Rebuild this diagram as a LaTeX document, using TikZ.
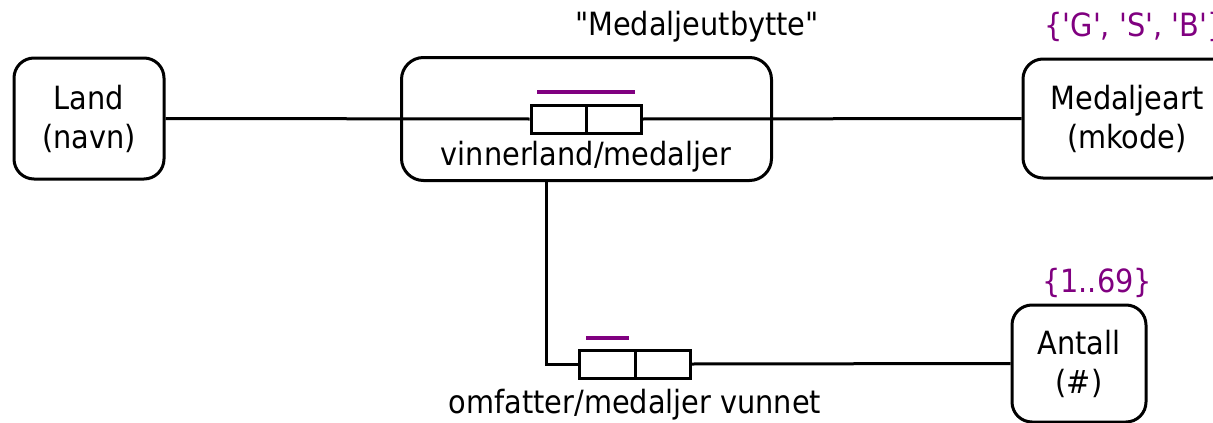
\documentclass[tikz,border=0pt]{standalone}
\usepackage{fontspec}
\setmainfont{DejaVu Sans Condensed}[Ligatures=TeXOff]
\definecolor{dompurple}{RGB}{128,0,128}
\begin{document}
\begin{tikzpicture}[x=1pt,y=-1pt,line width=3pt,
  entity/.style={draw,rounded corners=20pt,align=center,inner sep=0pt,
    font=\fontsize{32}{39}\selectfont},
  relbox/.style={draw,rounded corners=22pt,inner sep=0pt},
  rolebox/.style={draw,inner sep=0pt,minimum width=55pt,minimum height=28pt},
  captext/.style={inner sep=0pt,font=\fontsize{32}{38}\selectfont},
  valtext/.style={inner sep=0pt,text=dompurple,font=\fontsize{32}{38}\selectfont},
  uniq/.style={draw=dompurple,line width=3.5pt}]
\clip (0,0) rectangle (1213,423);

% entity types
\node[entity,minimum width=150pt,minimum height=121pt] (land) at (89,118.5) {Land\\(navn)};
\node[entity,minimum width=208pt,minimum height=119pt] (mart) at (1127,118.5) {Medaljeart\\(mkode)};
\node[entity,minimum width=134pt,minimum height=117pt] (antall) at (1079,363.5) {Antall\\(\#)};

% objectified relationship
\node[relbox,minimum width=370pt,minimum height=123pt] (rel) at (586.5,119) {};
\node[captext] (relname) at (697,27) {"Medaljeutbytte"};
\node[captext] (reltext) at (586,157) {vinnerland/medaljer};

% binary fact type inside the relationship
\node[rolebox] (r1) at (558.5,119) {};
\node[rolebox] (r2) at (613.5,119) {};
\draw[uniq] (537,92) -- (635,92);

% fact type on the relationship
\node[rolebox,minimum width=56pt] (r3) at (607,364) {};
\node[rolebox] (r4) at (662.5,364) {};
\draw[uniq] (586,338) -- (629,338);
\node[captext] (ftext) at (635,405) {omfatter/medaljer vunnet};

% value constraints
\node[valtext,anchor=west] (dmart) at (1043,27) {\{'G', 'S', 'B'\}};
\node[valtext] (dant) at (1097,283) {\{1..69\}};

% connectors
\draw (land.east) -- (r1.west);
\draw (r2.east) -- (mart.west);
\coordinate (drop) at (546,181);
\draw (drop) |- (r3.west);
\draw (r4.east) -- (antall.west);
\end{tikzpicture}
\end{document}
